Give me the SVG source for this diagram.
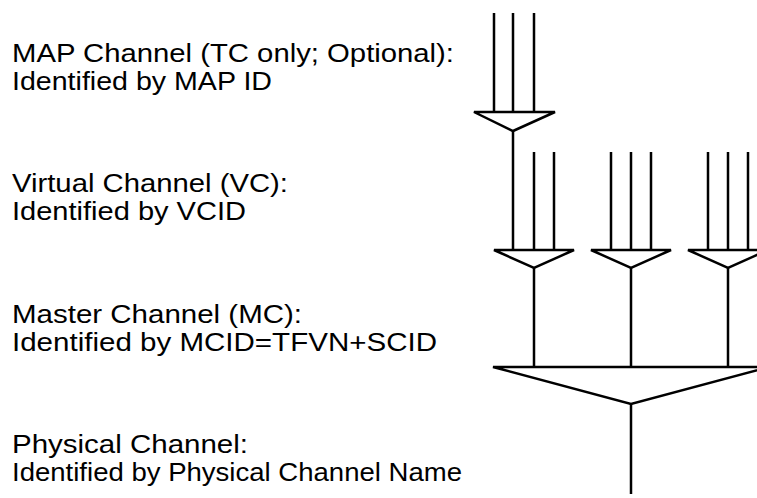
<svg xmlns="http://www.w3.org/2000/svg" width="757" height="498" viewBox="0 0 757 498">
<style>
.t{font-family:"Liberation Sans",Arial,sans-serif;font-size:25px;fill:#000}
.s{fill:none;stroke:#000;stroke-width:2.5;stroke-linejoin:miter}
</style>
<rect width="757" height="498" fill="#fff"/>
<g id="label-map"><text class="t" x="12" y="62" textLength="442" lengthAdjust="spacingAndGlyphs">MAP Channel (TC only; Optional):</text><text class="t" x="12" y="90" textLength="260" lengthAdjust="spacingAndGlyphs">Identified by MAP ID</text></g>
<g id="label-vc"><text class="t" x="12" y="192" textLength="276" lengthAdjust="spacingAndGlyphs">Virtual Channel (VC):</text><text class="t" x="12" y="220" textLength="234" lengthAdjust="spacingAndGlyphs">Identified by VCID</text></g>
<g id="label-mc"><text class="t" x="12" y="323" textLength="290" lengthAdjust="spacingAndGlyphs">Master Channel (MC):</text><text class="t" x="12" y="351" textLength="425" lengthAdjust="spacingAndGlyphs">Identified by MCID=TFVN+SCID</text></g>
<g id="label-pc"><text class="t" x="12" y="453" textLength="236" lengthAdjust="spacingAndGlyphs">Physical Channel:</text><text class="t" x="12" y="481" textLength="450" lengthAdjust="spacingAndGlyphs">Identified by Physical Channel Name</text></g>
<g id="mux-map"><path class="s" d="M474,112H555L513,131Z"/></g>
<g id="mux-vc1"><path class="s" d="M494,250H574L534,268Z"/></g>
<g id="mux-vc2"><path class="s" d="M591,250H671L631,268Z"/></g>
<g id="mux-vc3"><path class="s" d="M688,250H768L728,268Z"/></g>
<g id="mux-mc"><path class="s" d="M493,367H769L631,404Z"/></g>
<g id="connectors">
<path class="s" d="M494,13V112M513,13V112M534,13V112"/>
<path class="s" d="M513,131V250M534,152V250M554,152V250"/>
<path class="s" d="M611,152V250M631,152V250M651,152V250"/>
<path class="s" d="M708,152V250M728,152V250M748,152V250"/>
<path class="s" d="M534,268V367M631,268V367M728,268V367"/>
<path class="s" d="M631,404V494"/>
</g>
</svg>
